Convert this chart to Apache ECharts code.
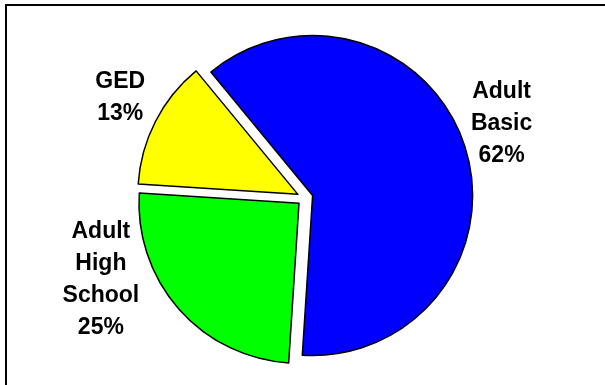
<!DOCTYPE html>
<html lang="en">
<head>
    <meta charset="UTF-8">
    <title>Program enrollment pie</title>
    <script src="https://cdn.jsdelivr.net/npm/echarts@6/dist/echarts.min.js"></script>
</head>
<style>
    * {
        margin: 0;
        padding: 0;
    }

    body {
        width: 605px;
        height: 385px;
        overflow: hidden;
        background: #fff;
        position: relative;
    }

    .frame {
        position: absolute;
        left: 5px;
        top: 4px;
        width: 700px;
        height: 500px;
        border: 2px solid #000;
    }

    .box {
        position: absolute;
        left: 0;
        top: 0;
        width: 605px;
        height: 385px;
    }
</style>

<body>
    <div class="frame"></div>
    <div class="box" id="myChart"></div>
    <script>
        // data
        const categories = ['Adult Basic', 'Adult High School', 'GED'];
        const shares = [62, 25, 13];
        const colors = ['#0000FF', '#00FF00', '#FFFF00'];

        const cx = 305, cy = 198, radius = 160;
        const startAngle = 129.5;
        // label spot per slice: [angle nudge from slice middle, distance from centre]
        const labelSpots = [[2.7, 210], [-19.4, 220], [-1.3, 210]];

        const total = shares.reduce((a, b) => a + b, 0);
        const midAngles = [];
        let acc = startAngle;
        shares.forEach(v => {
            const span = v / total * 360;
            midAngles.push(acc - span / 2);
            acc -= span;
        });

        const labelFont = {
            color: '#000',
            fontFamily: 'Liberation Sans, Arial, sans-serif',
            fontWeight: 'bold',
            fontSize: 23,
            lineHeight: 32
        };

        let myChart = echarts.init(document.getElementById('myChart'));
        const option = {
            animation: false,
            series: [{
                    // exploded slices
                    type: 'pie',
                    center: [cx, cy],
                    radius: radius,
                    startAngle: startAngle,
                    clockwise: true,
                    selectedMode: 'multiple',
                    selectedOffset: 8,
                    itemStyle: {
                        borderColor: '#000',
                        borderWidth: 1.5
                    },
                    label: { show: false },
                    labelLine: { show: false },
                    emphasis: { disabled: true },
                    data: categories.map((name, i) => ({
                        name: name,
                        value: shares[i],
                        selected: true,
                        itemStyle: { color: colors[i] }
                    }))
                },
                {
                    // same data, invisible, only carries the labels
                    type: 'pie',
                    silent: true,
                    center: [cx, cy],
                    radius: radius,
                    startAngle: startAngle,
                    clockwise: true,
                    itemStyle: {
                        color: 'rgba(0,0,0,0)',
                        borderWidth: 0
                    },
                    label: Object.assign({
                        show: true,
                        position: 'outside',
                        formatter: function (p) {
                            return p.name.split(' ').join('\n') + '\n' + Math.round(p.percent) + '%';
                        }
                    }, labelFont),
                    labelLine: { show: false },
                    labelLayout: function (p) {
                        const spot = labelSpots[p.dataIndex];
                        const a = (midAngles[p.dataIndex] + spot[0]) * Math.PI / 180;
                        return {
                            x: cx + spot[1] * Math.cos(a),
                            y: cy - spot[1] * Math.sin(a),
                            align: 'center',
                            verticalAlign: 'middle'
                        };
                    },
                    emphasis: { disabled: true },
                    data: categories.map((name, i) => ({
                        name: name,
                        value: shares[i]
                    }))
                }
            ]
        };
        myChart.setOption(option, true);
    </script>
</body>

</html>
